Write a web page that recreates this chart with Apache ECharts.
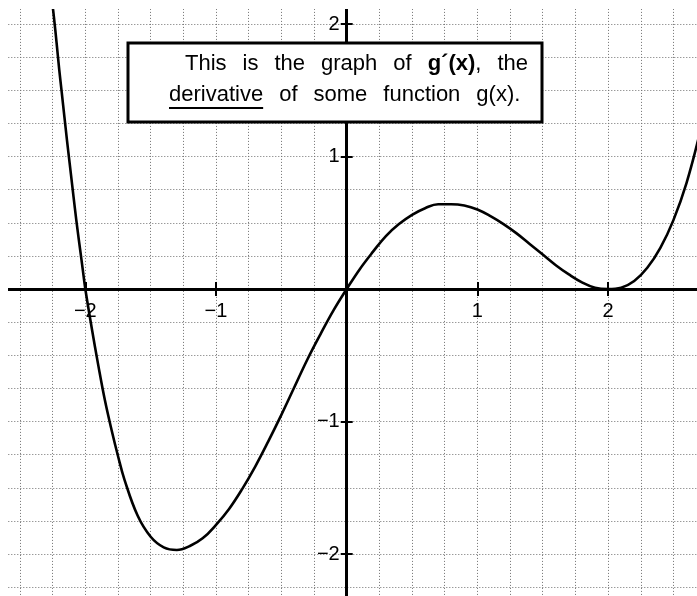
<!DOCTYPE html>
<html>
<head>
<meta charset="utf-8">
<style>
  html, body { margin: 0; padding: 0; background: #fff; }
  #chart { width: 697px; height: 596px; }
</style>
<script src="https://cdn.jsdelivr.net/npm/echarts@6/dist/echarts.min.js"></script>
</head>
<body>
<div id="chart"></div>
<script>
// g'(x): sampled points of the derivative curve
const gx = [-2.26, -2.24, -2.22, -2.20, -2.18, -2.16, -2.14, -2.12, -2.10, -2.08, -2.06, -2.04, -2.02, -2.00,
  -1.95, -1.90, -1.85, -1.80, -1.75, -1.70, -1.60, -1.50, -1.40, -1.30, -1.20, -1.10, -1.00,
  -0.90, -0.80, -0.70, -0.60, -0.50, -0.40, -0.30, -0.20, -0.10, 0.00,
  0.10, 0.20, 0.30, 0.40, 0.50, 0.60, 0.70, 0.80, 0.90, 1.00,
  1.10, 1.20, 1.30, 1.40, 1.50, 1.60, 1.70, 1.80, 1.90, 2.00,
  2.10, 2.20, 2.30, 2.40, 2.50, 2.60, 2.70];
const gy = [2.22, 2.05, 1.86, 1.66, 1.48, 1.30, 1.12, 0.95, 0.78, 0.61, 0.45, 0.30, 0.15, 0.00,
  -0.30, -0.58, -0.84, -1.06, -1.26, -1.44, -1.71, -1.87, -1.95, -1.97, -1.94, -1.88, -1.78,
  -1.66, -1.51, -1.34, -1.15, -0.95, -0.74, -0.53, -0.34, -0.16, 0.00,
  0.15, 0.28, 0.40, 0.49, 0.56, 0.61, 0.64, 0.64, 0.63, 0.60,
  0.55, 0.49, 0.42, 0.34, 0.26, 0.18, 0.11, 0.05, 0.01, 0.00,
  0.01, 0.06, 0.16, 0.31, 0.52, 0.80, 1.17];

// labelled integer ticks on each axis
const xTicks = [-2, -1, 1, 2];
const yTicks = [-2, -1, 1, 2];
const xTickLabels = ['\u22122', '\u22121', '1', '2'];
const yTickLabels = ['\u22122', '\u22121', '1', '2'];

// caption text
const captionLine1 = [['This', 'n'], ['is', 'n'], ['the', 'n'], ['graph', 'n'], ['of', 'n'], ['g\u00B4(x)', 'b', ','], ['the', 'n']];
const captionLine2 = [['derivative', 'n'], ['of', 'n'], ['some', 'n'], ['function', 'n'], ['g(x).', 'n']];

const X_MIN = -2.75, X_MAX = 2.75, Y_MIN = -2.5, Y_MAX = 2.25, GRID_STEP = 0.25;
const FONT = '"Liberation Sans", Arial, Helvetica, sans-serif';
const CAPTION_SIZE = 22;

const chart = echarts.init(document.getElementById('chart'), null, { renderer: 'canvas' });

const curve = gx.map((x, i) => [x, gy[i]]);

function richLine(words) {
  return words.map(w => '{' + w[1] + '|' + w[0] + '}' + (w[2] ? '{n|' + w[2] + '}' : '')).join('{s| }');
}

const measureCtx = document.createElement('canvas').getContext('2d');
measureCtx.font = CAPTION_SIZE + 'px ' + FONT;
const underlineWidth = measureCtx.measureText(captionLine2[0][0]).width;

const captionRich = {
  n: { fontSize: CAPTION_SIZE, fontFamily: FONT, fill: '#000' },
  b: { fontSize: CAPTION_SIZE, fontFamily: FONT, fontWeight: 'bold', fill: '#000' },
  s: { fontSize: CAPTION_SIZE, fontFamily: FONT, width: 16 }
};

const gridLineStyle = { color: '#707070', width: 1, type: [1, 2] };
const axisLineStyle = { color: '#000', width: 3 };
const tickLineStyle = { color: '#000', width: 2 };
const tickTextStyle = { color: '#000', opacity: 1, fontSize: 20, fontFamily: FONT };

const baseAxis = { type: 'value', scale: false };

// tick labels are placed at the tick positions on each axis
const xLabelPoints = xTicks.map((v, i) => ({ value: [v, 0], name: xTickLabels[i] }));
const yLabelPoints = yTicks.map((v, i) => ({ value: [0, v], name: yTickLabels[i] }));

const option = {
  backgroundColor: '#fff',
  animation: false,
  grid: { left: -12.7, right: -9.1, top: -9.1, bottom: -24.25, containLabel: false, outerBoundsMode: 'none' },
  xAxis: [
    // quarter-unit grid
    Object.assign({}, baseAxis, {
      min: X_MIN, max: X_MAX, interval: GRID_STEP, position: 'bottom',
      axisLine: { show: false, onZero: false }, axisTick: { show: false }, axisLabel: { show: false },
      splitLine: { show: true, lineStyle: gridLineStyle }
    }),
    // axis line with downward ticks
    Object.assign({}, baseAxis, {
      min: X_MIN, max: X_MAX, position: 'bottom',
      axisLine: { show: true, onZero: true, lineStyle: axisLineStyle },
      axisTick: { show: true, customValues: xTicks, length: 7, inside: false, lineStyle: tickLineStyle },
      axisLabel: { show: false },
      splitLine: { show: false }
    }),
    // upward ticks
    Object.assign({}, baseAxis, {
      min: X_MIN, max: X_MAX, position: 'bottom',
      axisLine: { show: false, onZero: true },
      axisTick: { show: true, customValues: xTicks, length: 7, inside: true, lineStyle: tickLineStyle },
      axisLabel: { show: false },
      splitLine: { show: false }
    })
  ],
  yAxis: [
    Object.assign({}, baseAxis, {
      min: Y_MIN, max: Y_MAX, interval: GRID_STEP, position: 'left',
      axisLine: { show: false, onZero: false }, axisTick: { show: false }, axisLabel: { show: false },
      splitLine: { show: true, lineStyle: gridLineStyle }
    }),
    Object.assign({}, baseAxis, {
      min: Y_MIN, max: Y_MAX, position: 'left',
      axisLine: { show: true, onZero: true, lineStyle: axisLineStyle },
      axisTick: { show: true, customValues: yTicks, length: 6, inside: false, lineStyle: tickLineStyle },
      axisLabel: { show: false },
      splitLine: { show: false }
    }),
    Object.assign({}, baseAxis, {
      min: Y_MIN, max: Y_MAX, position: 'left',
      axisLine: { show: false, onZero: true },
      axisTick: { show: true, customValues: yTicks, length: 6, inside: true, lineStyle: tickLineStyle },
      axisLabel: { show: false },
      splitLine: { show: false }
    })
  ],
  series: [
    {
      name: "g'(x)",
      type: 'line',
      xAxisIndex: 1,
      yAxisIndex: 1,
      data: curve,
      showSymbol: false,
      smooth: 0.4,
      clip: true,
      z: 5,
      lineStyle: { color: '#000', width: 2.6 }
    },
    {
      name: 'x tick labels',
      type: 'scatter',
      xAxisIndex: 1,
      yAxisIndex: 1,
      data: xLabelPoints,
      symbolSize: 0,
      silent: true,
      z: 6,
      itemStyle: { opacity: 1 },
      label: Object.assign({ show: true, position: 'bottom', distance: 12, formatter: p => p.name }, tickTextStyle)
    },
    {
      name: 'y tick labels',
      type: 'scatter',
      xAxisIndex: 1,
      yAxisIndex: 1,
      data: yLabelPoints,
      symbolSize: 0,
      silent: true,
      z: 6,
      itemStyle: { opacity: 1 },
      label: Object.assign({ show: true, position: 'left', distance: 7, formatter: p => p.name }, tickTextStyle)
    }
  ],
  graphic: [
    // blank margin along the top and left edges of the sheet
    { type: 'rect', z: 200, silent: true, shape: { x: 0, y: 0, width: 697, height: 9 }, style: { fill: '#fff' } },
    { type: 'rect', z: 200, silent: true, shape: { x: 0, y: 0, width: 8, height: 596 }, style: { fill: '#fff' } },
    // caption box
    { type: 'rect', z: 210, shape: { x: 128, y: 43, width: 414, height: 79 },
      style: { fill: '#fff', stroke: '#000', lineWidth: 3 } },
    { type: 'text', z: 211, x: 185, y: 64,
      style: { text: richLine(captionLine1), rich: captionRich, fontSize: CAPTION_SIZE, fontFamily: FONT,
        fill: '#000', align: 'left', verticalAlign: 'middle' } },
    { type: 'text', z: 211, x: 169, y: 95,
      style: { text: richLine(captionLine2), rich: captionRich, fontSize: CAPTION_SIZE, fontFamily: FONT,
        fill: '#000', align: 'left', verticalAlign: 'middle' } },
    { type: 'line', z: 211, shape: { x1: 169, y1: 108, x2: 169 + underlineWidth, y2: 108 },
      style: { stroke: '#000', lineWidth: 2 } }
  ]
};

chart.setOption(option);
</script>
</body>
</html>
